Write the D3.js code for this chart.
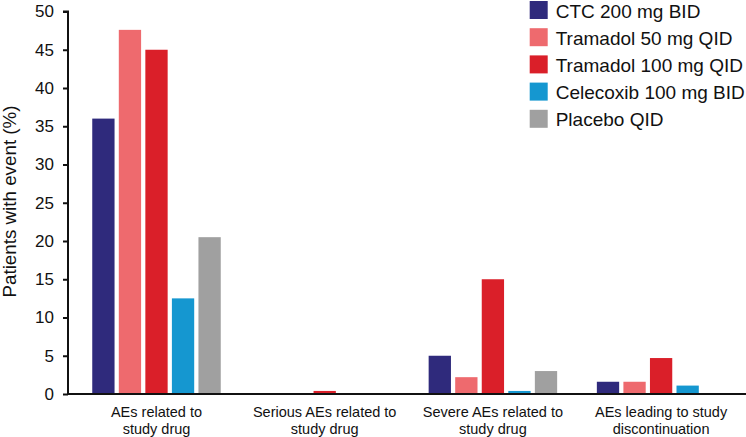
<!DOCTYPE html>
<html>
<head>
<meta charset="utf-8">
<script src="https://cdn.jsdelivr.net/npm/d3@7/dist/d3.min.js"></script>
<style>
  body { margin: 0; background: #fff; }
  text { font-family: "Liberation Sans", Arial, sans-serif; fill: #111; }
</style>
</head>
<body>
<div id="app"></div>
<script>
var categories = [
  ["AEs related to", "study drug"],
  ["Serious AEs related to", "study drug"],
  ["Severe AEs related to", "study drug"],
  ["AEs leading to study", "discontinuation"]
];
var seriesNames = ["CTC 200 mg BID", "Tramadol 50 mg QID", "Tramadol 100 mg QID", "Celecoxib 100 mg BID", "Placebo QID"];
var seriesColors = ["#2f2a7c", "#ee6a6e", "#da1f29", "#1597d0", "#a0a0a0"];
var ctc = [36.0, 0, 5.0, 1.6];
var tramadol50 = [47.6, 0, 2.2, 1.6];
var tramadol100 = [45.0, 0.4, 15.0, 4.7];
var celecoxib = [12.5, 0, 0.4, 1.1];
var placebo = [20.5, 0, 3.0, 0];
var yTicks = [0, 5, 10, 15, 20, 25, 30, 35, 40, 45, 50];

var series = [ctc, tramadol50, tramadol100, celecoxib, placebo];
var width = 746, height = 437;
var svg = d3.select("#app").append("svg")
    .attr("width", width)
    .attr("height", height);

var y = d3.scaleLinear().domain([0, 50]).range([394, 11.5]);
var x0 = d3.scaleBand().domain(d3.range(categories.length)).range([72.4, 745.2]).paddingInner(0).paddingOuter(0);
var x1 = d3.scaleBand().domain(d3.range(seriesNames.length)).range([0, 128.5]).paddingInner(0.16);
var groupOffset = (x0.bandwidth() - 128.5) / 2;

var groups = svg.append("g").selectAll("g")
    .data(categories)
    .enter().append("g")
    .attr("transform", function(d, i) { return "translate(" + (x0(i) + groupOffset) + ",0)"; });

groups.selectAll("rect")
    .data(function(d, i) { return series.map(function(s, j) { return {s: j, v: s[i]}; }); })
    .enter().append("rect")
    .attr("x", function(d) { return x1(d.s); })
    .attr("width", x1.bandwidth())
    .attr("y", function(d) { return y(d.v); })
    .attr("height", function(d) { return y(0) - y(d.v); })
    .attr("fill", function(d) { return seriesColors[d.s]; });

// y axis
var yAxis = svg.append("g")
    .attr("transform", "translate(68,0)")
    .call(d3.axisLeft(y).tickValues(yTicks).tickSize(5).tickPadding(9));
yAxis.select(".domain").attr("stroke", "#111").attr("stroke-width", 2).attr("d", "M-5," + y(50) + "H0V" + y(0));
yAxis.selectAll(".tick line").attr("stroke", "#111").attr("stroke-width", 2);
yAxis.selectAll(".tick text").style("font-size", "17px").style("font-family", "Liberation Sans, Arial, sans-serif").attr("fill", "#111");

// x axis line
svg.append("line")
    .attr("x1", 67).attr("x2", 746)
    .attr("y1", y(0)).attr("y2", y(0))
    .attr("stroke", "#111").attr("stroke-width", 2);

// x labels
var xl = svg.append("g").selectAll("text")
    .data(categories)
    .enter().append("text")
    .attr("text-anchor", "middle")
    .attr("x", function(d, i) { return x0(i) + x0.bandwidth() / 2; })
    .attr("y", 416.5)
    .style("font-size", "14.5px");
xl.selectAll("tspan")
    .data(function(d) { return d; })
    .enter().append("tspan")
    .attr("x", function() { return d3.select(this.parentNode).attr("x"); })
    .attr("dy", function(d, i) { return i === 0 ? 0 : 17; })
    .text(function(d) { return d; });

// y title
svg.append("text")
    .attr("transform", "translate(15.5,201.5) rotate(-90)")
    .attr("text-anchor", "middle")
    .style("font-size", "18.8px")
    .text("Patients with event (%)");

// legend
var legend = svg.append("g").selectAll("g")
    .data(seriesNames)
    .enter().append("g")
    .attr("transform", function(d, i) { return "translate(529.7," + (1 + i * 27.2) + ")"; });
legend.append("rect")
    .attr("width", 18).attr("height", 18)
    .attr("fill", function(d, i) { return seriesColors[i]; });
legend.append("text")
    .attr("x", 26).attr("y", 16.5)
    .style("font-size", "19px")
    .text(function(d) { return d; });
</script>
</body>
</html>
